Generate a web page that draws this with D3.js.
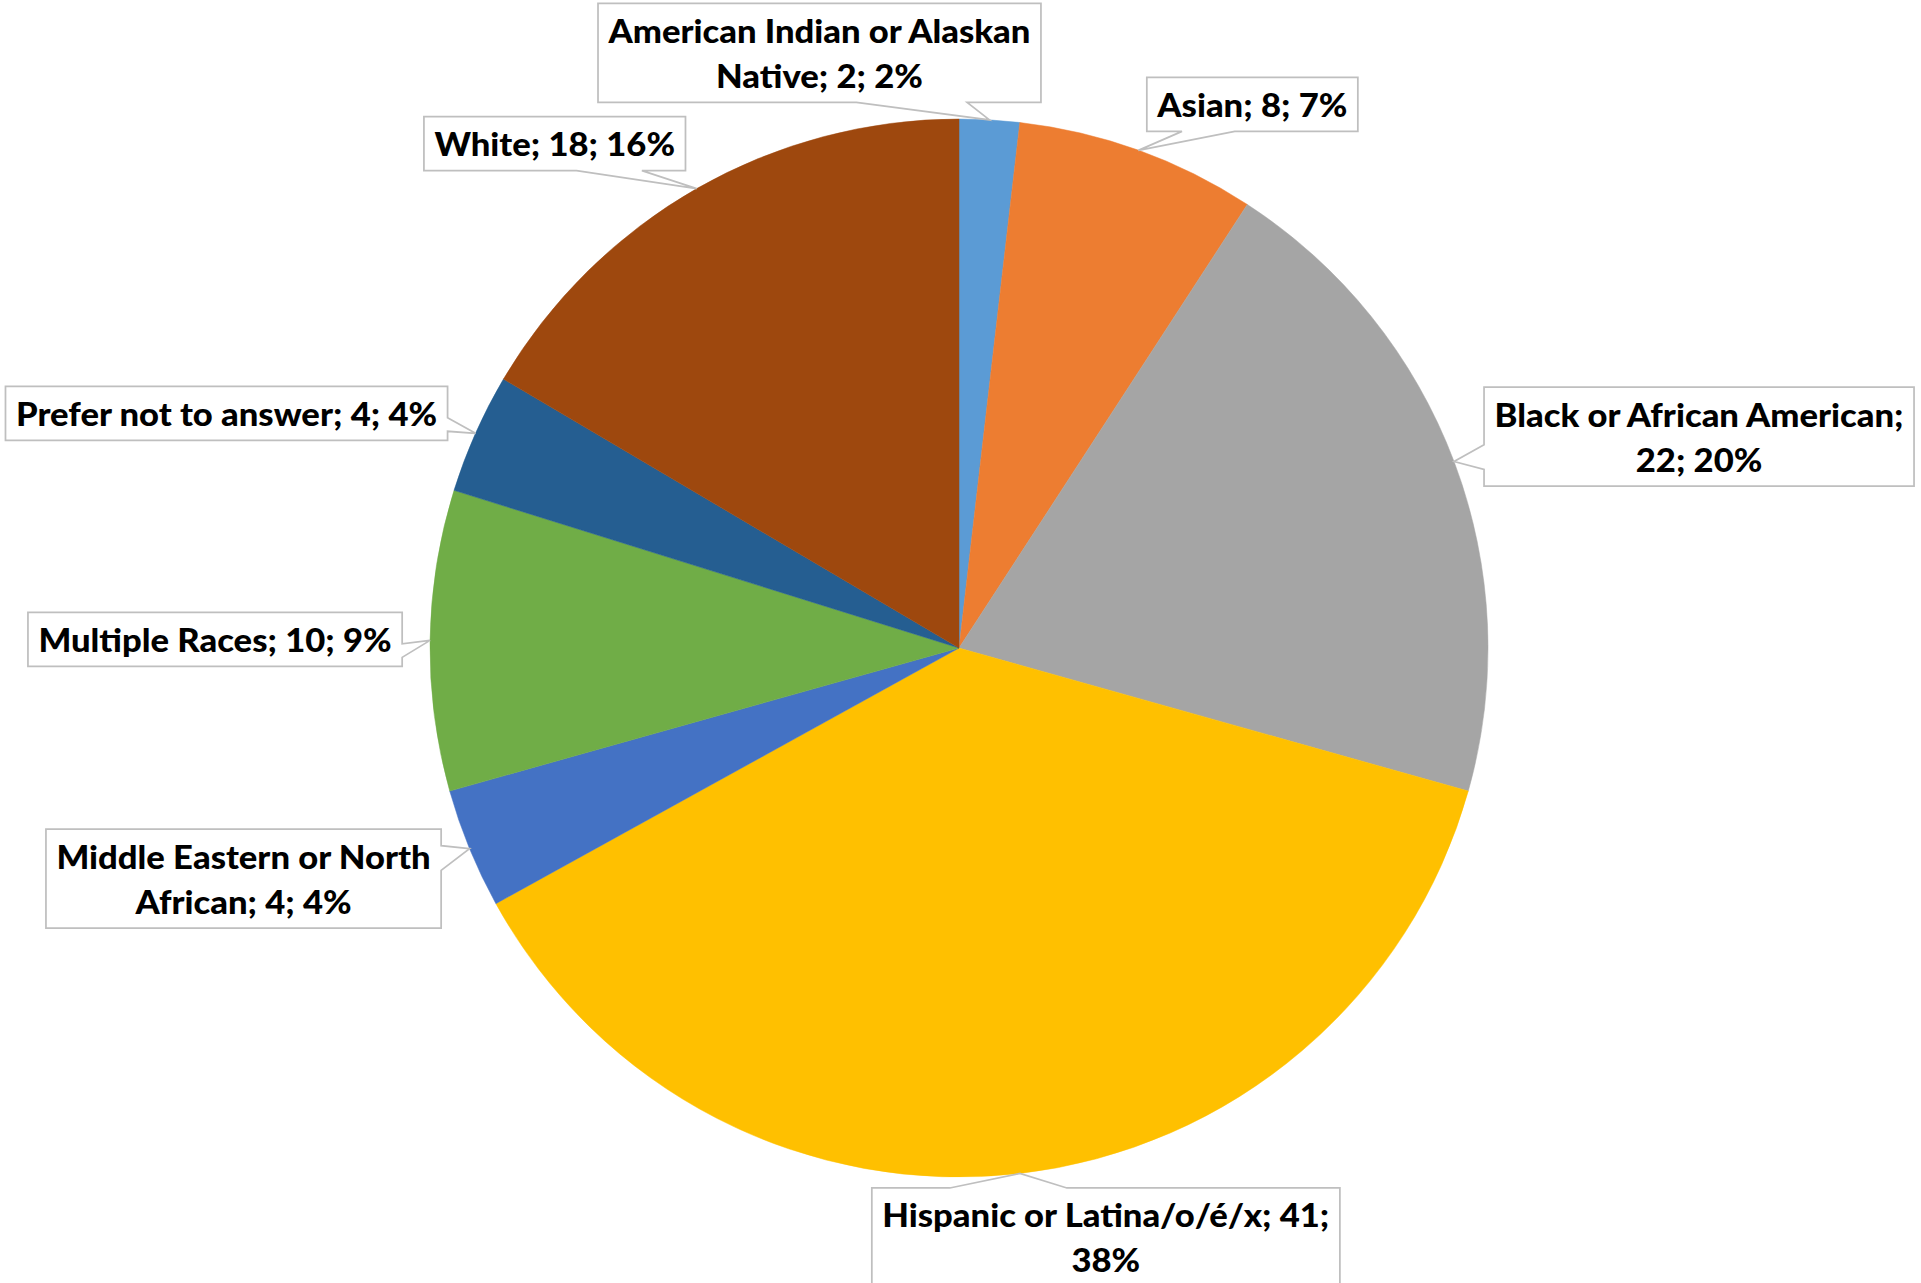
<!DOCTYPE html>
<html><head><meta charset="utf-8">
<script src="https://cdn.jsdelivr.net/npm/d3@7"></script>
<style>html,body{margin:0;padding:0;background:#fff;} svg{display:block}</style>
</head><body>
<svg id="chart" width="1921" height="1283"></svg>
<script>
// ---- data ----
const categories = [
  "American Indian or Alaskan Native",
  "Asian",
  "Black or African American",
  "Hispanic or Latina/o/é/x",
  "Middle Eastern or North African",
  "Multiple Races",
  "Prefer not to answer",
  "White"
];
const values = [2, 8, 22, 41, 4, 10, 4, 18];
const percentLabels = [2, 7, 20, 38, 4, 9, 4, 16];
const colors = ["#5B9BD5", "#ED7D31", "#A5A5A5", "#FFC000", "#4472C4", "#70AD47", "#255E91", "#9E480E"];
// label box centre offset from each slice's callout tip (layout only)
const labelOffsets = [[-170, -67], [114, -46], [245, -25], [86, 64], [-226, 30], [-215, -1], [-249, -20], [-142, -45]];

// ---- layout ----
const W = 1921, H = 1283;
const cx = 959, cy = 648, R = 529;
const FONT = "Lato, 'Open Sans', sans-serif";
const FS = 32, LINE = 45, PADX = 10.5, PADY = 4.5;
const WRAP = 452;

const svg = d3.select("#chart");
svg.append("rect").attr("width", W).attr("height", H).attr("fill", "#fff");

const data = categories.map((c, i) => ({ cat: c, value: values[i], pct: percentLabels[i], color: colors[i], off: labelOffsets[i] }));
const pie = d3.pie().sort(null).value(d => d.value).startAngle(0).endAngle(2 * Math.PI);
const arcs = pie(data);
const arc = d3.arc().innerRadius(0).outerRadius(R);
const edge = d3.arc().innerRadius(R).outerRadius(R);

const g = svg.append("g").attr("transform", `translate(${cx},${cy})`);
g.selectAll("path.slice").data(arcs).join("path")
  .attr("class", "slice")
  .attr("d", arc)
  .attr("fill", d => d.data.color)
  .attr("stroke", d => d.data.color)
  .attr("stroke-width", 0.5);

// text measurement
const meas = svg.append("text").attr("font-family", FONT).attr("font-weight", 900)
  .attr("font-size", FS).attr("x", -1000).attr("y", -1000);
function measure(s) { meas.text(s); return meas.node().getComputedTextLength(); }
const k = 409 / measure("Black or African American;");
function tw(s) { return measure(s) * k; }

function wrap(str) {
  const words = str.split(" ");
  const lines = [];
  let cur = "";
  words.forEach(w => {
    const t = cur ? cur + " " + w : w;
    if (cur && tw(t) > WRAP) { lines.push(cur); cur = w; } else cur = t;
  });
  if (cur) lines.push(cur);
  return lines;
}

function calloutPath(x, y, w, h, tx, ty) {
  const mx = x + w / 2, my = y + h / 2;
  const dxPos = tx - mx, dyPos = ty - my;
  const dq = dxPos * h / w;
  const horiz = Math.abs(dq) > Math.abs(dyPos);
  const xa = x + w * (dxPos > 0 ? 7 : 2) / 12, xb = x + w * (dxPos > 0 ? 10 : 5) / 12;
  const ya = y + h * (dyPos > 0 ? 7 : 2) / 12, yb = y + h * (dyPos > 0 ? 10 : 5) / 12;
  const p = d3.path();
  p.moveTo(x, y);
  if (!horiz && dyPos < 0) { p.lineTo(xa, y); p.lineTo(tx, ty); p.lineTo(xb, y); }
  p.lineTo(x + w, y);
  if (horiz && dxPos > 0) { p.lineTo(x + w, ya); p.lineTo(tx, ty); p.lineTo(x + w, yb); }
  p.lineTo(x + w, y + h);
  if (!horiz && dyPos > 0) { p.lineTo(xb, y + h); p.lineTo(tx, ty); p.lineTo(xa, y + h); }
  p.lineTo(x, y + h);
  if (horiz && dxPos < 0) { p.lineTo(x, yb); p.lineTo(tx, ty); p.lineTo(x, ya); }
  p.closePath();
  return p.toString();
}

const lg = svg.append("g");
arcs.forEach(a => {
  const d = a.data;
  const [ex, ey] = edge.centroid(a);
  const tx = cx + ex, ty = cy + ey;
  const label = `${d.cat}; ${d.value}; ${d.pct}%`;
  const lines = wrap(label);
  const widths = lines.map(tw);
  const bw = d3.max(widths) + 2 * PADX;
  const bh = lines.length * LINE + 2 * PADY;
  const bcx = tx + d.off[0], bcy = ty + d.off[1];
  const bx = bcx - bw / 2, by = bcy - bh / 2;
  lg.append("path")
    .attr("d", calloutPath(bx, by, bw, bh, tx, ty))
    .attr("fill", "#fff")
    .attr("stroke", "#BFBFBF")
    .attr("stroke-width", 1.75)
    .attr("stroke-linejoin", "miter");
  const t = lg.append("text")
    .attr("font-family", FONT).attr("font-weight", 900).attr("font-size", FS)
    .attr("fill", "#000").attr("text-anchor", "middle");
  lines.forEach((ln, i) => {
    t.append("tspan")
      .attr("x", bcx)
      .attr("y", by + PADY + LINE * i + LINE / 2 + 12.5)
      .attr("textLength", widths[i])
      .attr("lengthAdjust", "spacingAndGlyphs")
      .text(ln);
  });
});
meas.remove();
</script>
</body></html>
